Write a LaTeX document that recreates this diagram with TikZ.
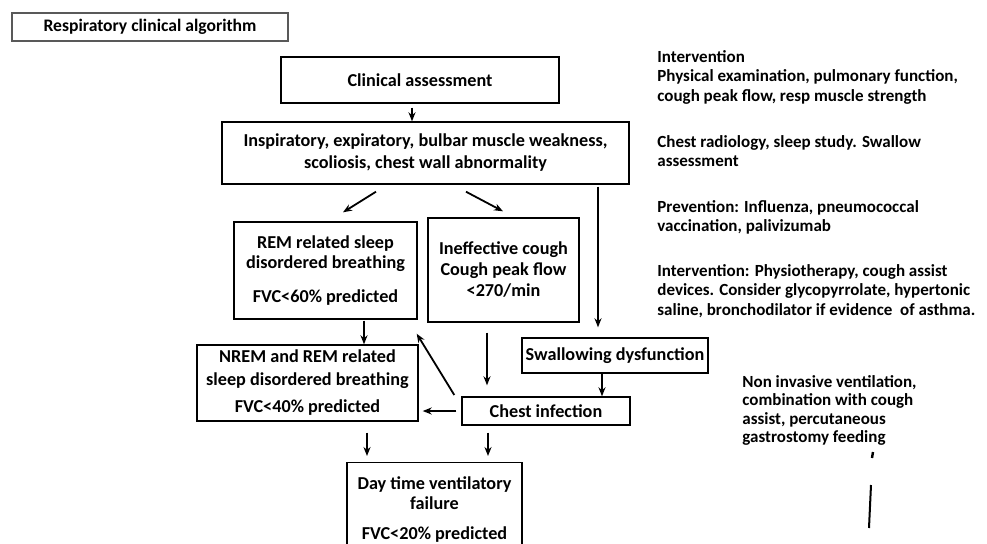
\documentclass[tikz,border=0pt]{standalone}
\usepackage{fontspec}
\setmainfont{Carlito}
\usepackage{tikz}
\usetikzlibrary{arrows.meta,calc}

\tikzset{
	box/.style={draw=black, line width=0.7pt, align=center, font=\bfseries\fontsize{9.1}{10}\selectfont},
	note/.style={anchor=north west, align=left, font=\bfseries\fontsize{8.5}{9.8}\selectfont},
	arr/.style={-{Stealth[length=4.5pt,width=3.5pt]}, line width=0.9pt}
}

\begin{document}
\begin{tikzpicture}[x=0.5pt,y=-0.5pt]
			\tikzstyle{every node}+=[inner sep=0pt]
			\useasboundingbox (0,0) rectangle (987,543);
			\clip (0,0) rectangle (987,543);
			\node [box, draw=black!65, minimum width=138pt, minimum height=14pt, font=\bfseries\fontsize{8.8}{10}\selectfont] (title) at (150,27) {Respiratory clinical algorithm};
			\node [box, minimum width=139pt, minimum height=23pt] (assess) at (420,80) {Clinical assessment};
			\node [box, minimum width=203.5pt, minimum height=31pt, font=\bfseries\fontsize{9.1}{11}\selectfont] (insp) at (425.5,153) {Inspiratory, expiratory, bulbar muscle weakness,\\scoliosis, chest wall abnormality};
			\node [box, minimum width=91.5pt, minimum height=48.5pt, font=\bfseries\fontsize{9.1}{9.8}\selectfont] (rem) at (325.5,270.5) {REM related sleep\\disordered breathing\\[7pt]FVC<60\% predicted};
			\node [box, minimum width=75.5pt, minimum height=52pt, font=\bfseries\fontsize{9.1}{10.5}\selectfont] (cough) at (503.5,270) {Ineffective cough\\Cough peak flow\\<270/min};
			\node [box, minimum width=93pt, minimum height=17.5pt] (swallow) at (615,355.5) {Swallowing dysfunction};
			\node [box, minimum width=84pt, minimum height=14pt] (chest) at (546,411) {Chest infection};
			\node [box, minimum width=110.5pt, minimum height=38pt, font=\bfseries\fontsize{9.1}{11.5}\selectfont] (nrem) at (307.5,383) {NREM and REM related\\sleep disordered breathing\\[2pt]FVC<40\% predicted};
			\node [box, anchor=north, minimum width=87.5pt, minimum height=47pt] (day) at (434.5,462) {Day time ventilatory\\failure\\[5pt]FVC<20\% predicted};
			\node [note] (int1) at (657,50) {Intervention\\Physical examination, pulmonary function,\\cough peak flow, resp muscle strength};
			\node [note] (radio) at (657,135) {Chest radiology, sleep study. Swallow\\assessment};
			\node [note] (prev) at (657,200) {Prevention: Influenza, pneumococcal\\vaccination, palivizumab};
			\node [note] (int2) at (657,264) {Intervention: Physiotherapy, cough assist\\devices. Consider glycopyrrolate, hypertonic\\saline, bronchodilator if evidence\ \ of asthma.};
			\node [note, font=\bfseries\fontsize{8.5}{9.2}\selectfont] (niv) at (742,375) {Non invasive ventilation,\\combination with cough\\assist, percutaneous\\gastrostomy feeding};
			\draw [arr] ($(assess.south)+(-8,4)$) -- ($(insp.north)+(-13.5,0)$);
			\draw [arr] ($(insp.south)+(-49.5,7)$) -- ($(rem.north)+(17.5,-9)$);
			\draw [arr] ($(insp.south)+(40.5,7)$) -- ($(cough.north)+(-0.5,-6)$);
			\draw [arr] ($(insp.south)+(172.5,2)$) -- ($(swallow.north)+(-17,-10)$);
			\draw [arr] ($(rem.south)+(38.5,1)$) -- ($(nrem.north)+(56.5,0)$);
			\draw [arr] ($(cough.south)+(-16.5,10)$) -- ($(chest.north)+(-59,-11)$);
			\draw [arr] ($(swallow.south)+(-13,0)$) -- ($(chest.north)+(56,0)$);
			\draw [arr] ($(chest.west)+(-7,-16)$) -- ($(rem.south east)+(-1,14)$);
			\draw [arr] ($(chest.west)+(-5,0)$) -- ($(chest.west -| nrem.east)+(4,0)$);
			\draw [arr] ($(nrem.south)+(59.5,11)$) -- ($(day.north)+(-67.5,-6)$);
			\draw [arr] ($(chest.south)+(-58,7)$) -- ($(day.north)+(53.5,-6)$);
			\draw [line width=1.2pt] (873,452) -- (872,458);
			\draw [line width=1pt] (871,485) -- (869,528);
\end{tikzpicture}
\end{document}
